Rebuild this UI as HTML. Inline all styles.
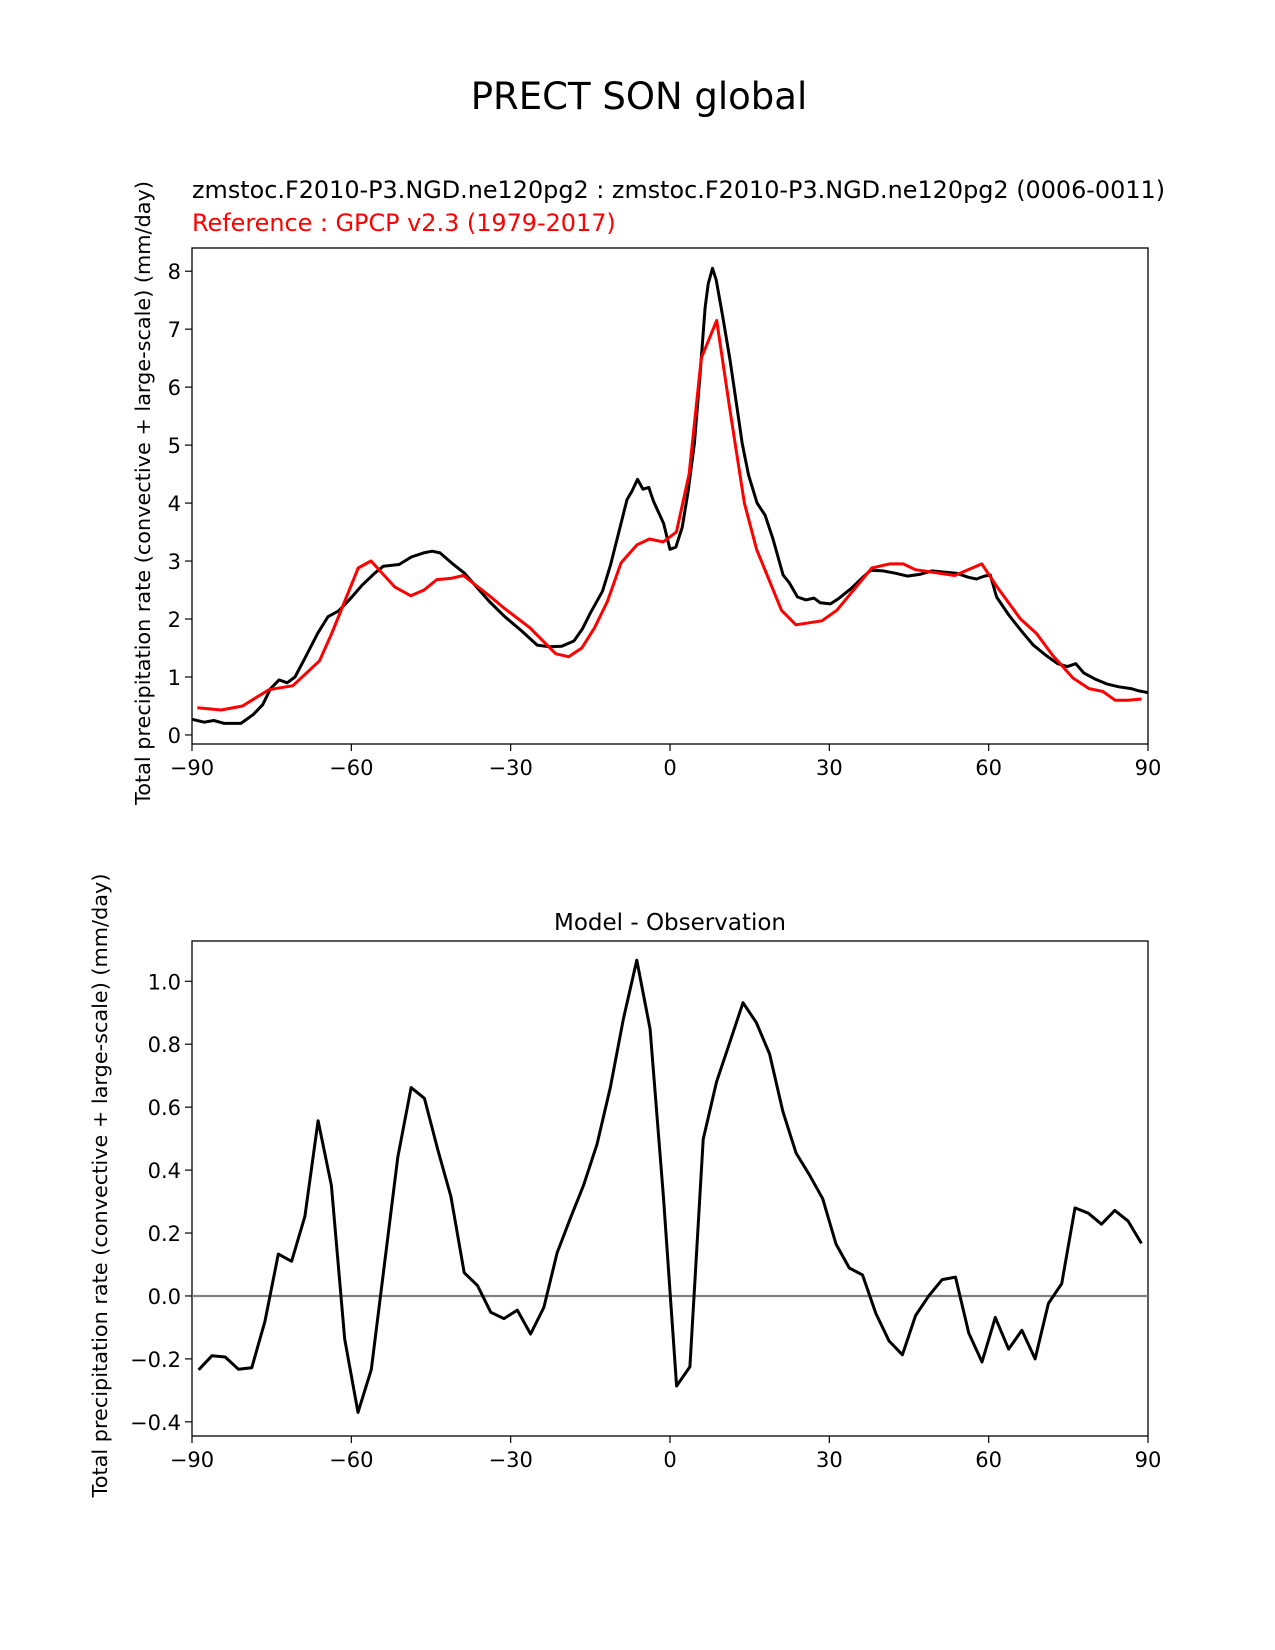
<!DOCTYPE html>
<html><head><meta charset="utf-8"><style>
html,body{margin:0;padding:0;background:#fff;}
svg{display:block;font-family:"DejaVu Sans","Liberation Sans",sans-serif;}
</style></head><body>
<svg id="fig" width="1275" height="1650" viewBox="0 0 1275 1650">
<text x="639" y="109" font-size="37" text-anchor="middle">PRECT SON global</text>
<text x="192" y="198" font-size="23.9">zmstoc.F2010-P3.NGD.ne120pg2 : zmstoc.F2010-P3.NGD.ne120pg2 (0006-0011)</text>
<text x="192" y="231" font-size="23.9" fill="#ff0000">Reference : GPCP v2.3 (1979-2017)</text>
<text x="670" y="930" font-size="23" text-anchor="middle">Model - Observation</text>
<g id="topPanel"></g>
<g id="botPanel"></g>
</svg>
<script>
const modelLat=[-90,-87.7,-85.9,-83.9,-80.8,-78.5,-76.7,-75.2,-73.6,-72.1,-70.6,-68.6,-66.3,-64.4,-62.4,-60.2,-57.9,-55.6,-54.0,-51.0,-48.7,-46.4,-44.8,-43.3,-41.0,-38.7,-36.4,-34.1,-31.1,-28.0,-25.0,-22.7,-20.4,-18.1,-16.5,-15.0,-12.7,-11.2,-9.6,-8.1,-7.2,-6.1,-5.1,-4.0,-3.1,-1.2,0.0,1.1,2.3,3.4,4.6,5.7,6.6,7.2,8.0,8.7,9.9,11.3,12.5,13.6,14.8,16.4,17.9,19.4,21.3,22.5,24.0,25.6,27.1,28.3,30.2,31.7,34.0,36.3,37.8,40.1,42.4,44.7,47.0,49.3,51.6,53.9,56.2,57.7,59.2,60.3,61.5,63.8,66.1,68.4,70.7,73.0,74.8,76.4,77.9,79.9,82.2,84.5,86.8,88.3,90];
const modelVal=[0.27,0.22,0.25,0.2,0.2,0.35,0.52,0.8,0.95,0.9,1.0,1.35,1.76,2.04,2.14,2.35,2.59,2.79,2.91,2.94,3.07,3.14,3.17,3.14,2.96,2.79,2.55,2.31,2.04,1.8,1.55,1.52,1.53,1.62,1.83,2.1,2.48,2.93,3.51,4.06,4.2,4.41,4.24,4.27,4.03,3.65,3.2,3.24,3.58,4.2,5.03,6.27,7.37,7.78,8.05,7.85,7.23,6.47,5.72,5.03,4.48,4.0,3.79,3.38,2.76,2.62,2.38,2.33,2.36,2.28,2.26,2.35,2.52,2.72,2.84,2.83,2.79,2.74,2.77,2.83,2.81,2.79,2.72,2.69,2.74,2.76,2.38,2.07,1.8,1.55,1.38,1.23,1.18,1.23,1.07,0.97,0.88,0.83,0.8,0.76,0.73];
const obsLat=[-89,-84.5,-80.5,-75.5,-71,-66,-63.7,-58.7,-56.3,-51.8,-48.8,-46.3,-43.9,-41.3,-38.9,-34,-31.4,-26.4,-21.5,-19.1,-16.6,-14.2,-11.8,-9.2,-6.2,-3.9,-1.3,1.2,3.6,5.9,8.8,11.3,14,16.3,21,23.7,28.6,31.4,38,41.3,43.9,46.2,50,53.6,58.7,61.6,66,69,72,75.9,78.9,81.5,83.8,86.2,88.8];
const obsVal=[0.47,0.43,0.5,0.78,0.85,1.28,1.75,2.88,3.0,2.55,2.4,2.5,2.68,2.7,2.75,2.4,2.2,1.85,1.4,1.35,1.5,1.85,2.3,2.97,3.28,3.38,3.33,3.5,4.5,6.5,7.15,5.6,4.0,3.2,2.15,1.9,1.97,2.15,2.88,2.95,2.95,2.85,2.8,2.75,2.95,2.55,2.0,1.75,1.38,0.98,0.8,0.75,0.6,0.6,0.62];
const diffVal=[-0.235,-0.19,-0.194,-0.233,-0.228,-0.08,0.133,0.11,0.253,0.557,0.351,-0.137,-0.37,-0.234,0.102,0.441,0.662,0.628,0.467,0.316,0.074,0.033,-0.052,-0.072,-0.045,-0.121,-0.036,0.137,0.247,0.353,0.482,0.662,0.882,1.067,0.848,0.316,-0.286,-0.225,0.498,0.68,0.806,0.932,0.869,0.769,0.586,0.454,0.385,0.309,0.165,0.089,0.067,-0.055,-0.143,-0.187,-0.062,0.001,0.052,0.06,-0.118,-0.21,-0.068,-0.169,-0.109,-0.2,-0.024,0.039,0.28,0.263,0.228,0.272,0.238,0.167];
const diffLat=diffVal.map((_,i)=>-88.75+2.5*i);
const xTicks=[-90,-60,-30,0,30,60,90];
const xTickLabels=["\u221290","\u221260","\u221230","0","30","60","90"];
const topTicks=[0,1,2,3,4,5,6,7,8];
const botTicks=[-0.4,-0.2,0,0.2,0.4,0.6,0.8,1.0];
const botTickLabels=["\u22120.4","\u22120.2","0.0","0.2","0.4","0.6","0.8","1.0"];
const NS="http://www.w3.org/2000/svg";
function mk(p,tag,a){const e=document.createElementNS(NS,tag);for(const k in a)e.setAttribute(k,a[k]);p.appendChild(e);return e;}
function panel(g,L,R,T,B,ymin,ymax,yt,ytl,labelX,pname){
 const sx=v=>L+(v+90)/180*(R-L), sy=v=>B-(v-ymin)/(ymax-ymin)*(B-T);
 const fr=mk(g,'rect',{x:L,y:T,width:R-L,height:B-T,fill:'none',stroke:'#000','stroke-width':1.3});
 
 
 xTicks.forEach((v,i)=>{const x=sx(v);
  const t=mk(g,'line',{x1:x,x2:x,y1:B,y2:B+7,stroke:'#000','stroke-width':1.2});
  
  
  const tx=mk(g,'text',{x:x,y:B+31,'font-size':21,'text-anchor':'middle'});tx.textContent=xTickLabels[i];
  
  });
 yt.forEach((v,i)=>{const y=sy(v);
  const t=mk(g,'line',{x1:L-7,x2:L,y1:y,y2:y,stroke:'#000','stroke-width':1.2});
  
  
  const tx=mk(g,'text',{x:L-11,y:y+8,'font-size':21,'text-anchor':'end'});tx.textContent=ytl[i];
  
  });
 const yl=mk(g,'text',{x:0,y:0,'font-size':20.8,'text-anchor':'middle',transform:`translate(${labelX},${(T+B)/2-3}) rotate(-90)`});
 yl.textContent='Total precipitation rate (convective + large-scale) (mm/day)';
 
 
 return {sx,sy};
}
function line(g,ax,xs,ys,col,w,name){
 const p=mk(g,'polyline',{points:xs.map((x,i)=>ax.sx(x).toFixed(1)+','+ax.sy(ys[i]).toFixed(1)).join(' '),fill:'none',stroke:col,'stroke-width':w,'stroke-linejoin':'round'});
 
 
}
const gTop=document.getElementById('topPanel');
const a1=panel(gTop,192,1148,248,744,-0.156,8.4,topTicks,topTicks.map(String),150,'top');
line(gTop,a1,modelLat,modelVal,'#000',3,'model-line');
line(gTop,a1,obsLat,obsVal,'#ff0000',3,'reference-line');
const gBot=document.getElementById('botPanel');
const a2=panel(gBot,192,1148,941,1436,-0.445,1.128,botTicks,botTickLabels,107,'bottom');
const z=mk(gBot,'line',{x1:192,x2:1148,y1:a2.sy(0),y2:a2.sy(0),stroke:'#808080','stroke-width':2.2});


line(gBot,a2,diffLat,diffVal,'#000',3,'difference-line');
</script>
</body></html>
